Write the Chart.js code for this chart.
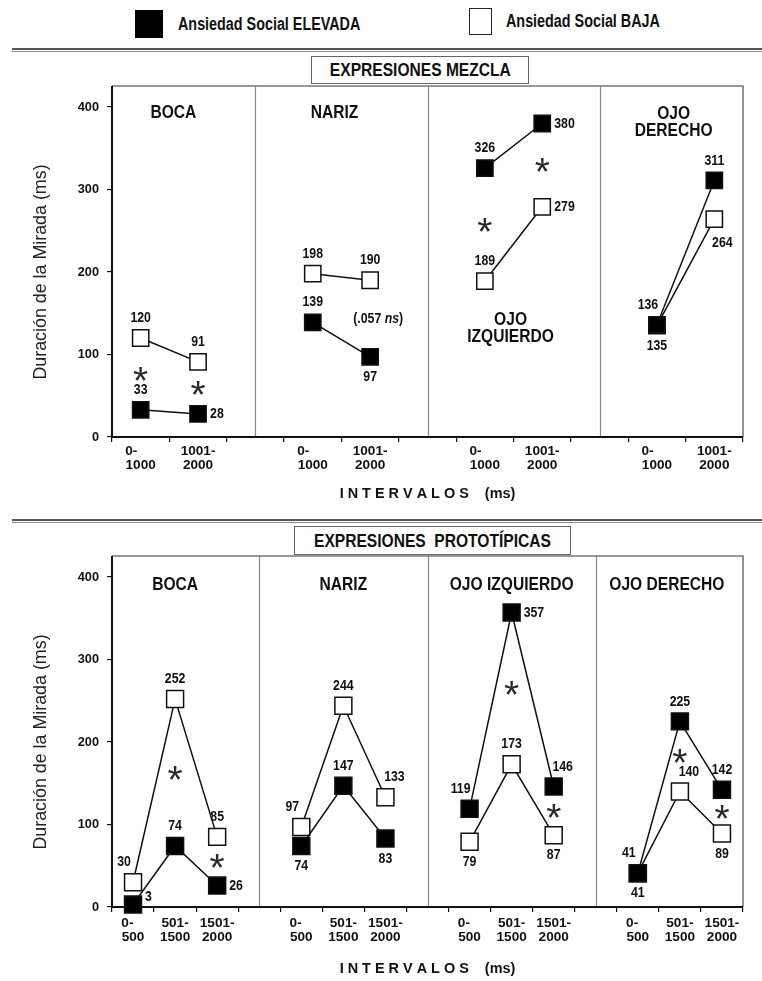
<!DOCTYPE html>
<html lang="es">
<head>
<meta charset="utf-8">
<title>Duración de la Mirada por intervalos</title>
<script src="https://cdn.jsdelivr.net/npm/chart.js@4.4.1/dist/chart.umd.min.js"></script>
<style>
    html, body { margin: 0; padding: 0; background: #fff; }
    body { position: relative; width: 762px; height: 981px; overflow: hidden; color: #111;
           font-family: "Liberation Sans", Arial, sans-serif; }
    .caja { position: absolute; box-sizing: border-box; }
    .negra { background: #000; }
    .blanca { background: #fff; border: 1.5px solid #222; }
    /* la figura usa una sans estrecha: se comprime en horizontal */
    .rotulo { position: absolute; transform: translateY(-50%) scaleX(0.82); transform-origin: left center;
              line-height: 1; white-space: nowrap; font-weight: bold; font-size: 17.5px; }
    .doble { position: absolute; left: 12px; right: 0; height: 1px; border-top: 2px solid #555; border-bottom: 1.5px solid #8a8a8a; }
    .cabecera { position: absolute; box-sizing: border-box; border: 1.5px solid #666; background: #fff; z-index: 2;
                display: flex; align-items: center; justify-content: center; font-weight: bold; font-size: 19px; white-space: pre; }
    .cabecera span { display: inline-block; transform: scaleX(0.82); }
    .lienzo { position: absolute; left: 0; }
</style>
</head>
<body>
    <!-- leyenda -->
    <div class="caja negra" style="left:135px;top:10px;width:28px;height:28px"></div>
    <div class="rotulo" style="left:178px;top:25px">Ansiedad Social ELEVADA</div>
    <div class="caja blanca" style="left:469px;top:8px;width:23px;height:27px"></div>
    <div class="rotulo" style="left:506px;top:22px">Ansiedad Social BAJA</div>

    <div class="doble" style="top:48px"></div>
    <div class="cabecera" style="left:311px;top:56px;width:218px;height:28px"><span>EXPRESIONES MEZCLA</span></div>
    <div class="lienzo" style="top:60px"><canvas id="mezcla" width="762" height="450"></canvas></div>

    <div class="doble" style="top:519px"></div>
    <div class="cabecera" style="left:294px;top:526px;width:277px;height:29px"><span>EXPRESIONES  PROTOTÍPICAS</span></div>
    <div class="lienzo" style="top:530px"><canvas id="prototipicas" width="762" height="451"></canvas></div>

<script>
// ---- datos ----
const regiones = ['BOCA', 'NARIZ', 'OJO IZQUIERDO', 'OJO DERECHO'];
const ticksY = [0, 100, 200, 300, 400];

// Expresiones mezcla: 2 intervalos por region
const intervalosMezcla = [['0-     ', '1000'], ['1001-', '2000']];
const mezclaElevada = [33, 28, 139, 97, 326, 380, 136, 311];
const mezclaBaja = [120, 91, 198, 190, 189, 279, 135, 264];
const mezclaSignif = [true, true, false, false, true, true, false, false];

// Expresiones prototipicas: 3 intervalos por region
const intervalosProto = [['0-   ', '500'], ['501-', '1500'], ['1501-', '2000']];
const protoElevada = [3, 74, 26, 74, 147, 83, 119, 357, 146, 41, 225, 142];
const protoBaja = [30, 252, 85, 97, 244, 133, 79, 173, 87, 41, 140, 89];
const protoSignif = [false, true, true, false, false, false, false, true, true, false, true, true];

// donde va cada etiqueta de valor (t arriba, b abajo, r derecha, tl/tr arriba-izq/der, br abajo-der, ru derecha-arriba)
const posMezclaElevada = ['t', 'r', 't', 'b', 't', 'r', 'tl', 't'];
const posMezclaBaja = ['t', 't', 't', 't', 't', 'r', 'b', 'br'];
const posProtoElevada = ['ru', 't', 'r', 'b', 't', 'b', 'tl', 'r', 'tr', 'b', 't', 't'];
const posProtoBaja = ['tl', 't', 't', 'tl', 't', 'tr', 'b', 't', 'b', 'tl', 'tr', 'b'];

const DESPLAZ = {
    t: [0, -20, 'center'], b: [0, 20, 'center'], r: [12, 0, 'left'],
    tl: [-9, -20, 'center'], tr: [9, -20, 'center'], br: [8, 24, 'center'], ru: [12, -8, 'left']
};

const FAM = '"Liberation Sans", Arial, sans-serif';
const K = 0.85;          // escala de los textos que dibuja Chart.js
const ESTRECHO = 0.82;   // compresion horizontal de los textos propios

const fuente = (px, peso = 'normal', estilo = 'normal') => estilo + ' ' + peso + ' ' + px + 'px ' + FAM;

function textoEstrecho(ctx, txt, x, y) {
    ctx.save();
    ctx.translate(x, y);
    ctx.scale(ESTRECHO, 1);
    ctx.fillText(txt, 0, 0);
    ctx.restore();
}

// mete un hueco (null) entre regiones
function expandir(valores, porRegion, relleno = null) {
    const out = [];
    valores.forEach((v, i) => {
        if (i > 0 && i % porRegion === 0) out.push(relleno);
        out.push(v);
    });
    return out;
}

// marco, separadores, etiquetas, asteriscos y titulos de region
const decoracion = {
    id: 'decoracion',
    beforeDatasetsDraw(chart, args, o) {
        const { ctx, chartArea: a } = chart;
        const x = chart.scales.x, y = chart.scales.y;
        const techo = Math.round(y.getPixelForValue(o.tope));
        ctx.save();
        ctx.strokeStyle = '#8a8a8a';
        ctx.lineWidth = 1.2;
        o.separadores.forEach(i => {
            const px = Math.round(x.getPixelForValue(i)) + 0.5;
            ctx.beginPath(); ctx.moveTo(px, techo); ctx.lineTo(px, a.bottom); ctx.stroke();
        });
        ctx.strokeStyle = '#777';
        ctx.lineWidth = 1.6;
        ctx.beginPath(); ctx.moveTo(a.left, techo); ctx.lineTo(a.right, techo); ctx.lineTo(a.right, a.bottom); ctx.stroke();
        ctx.strokeStyle = '#111';
        ctx.lineWidth = 2;
        ctx.beginPath(); ctx.moveTo(a.left, techo); ctx.lineTo(a.left, a.bottom); ctx.lineTo(a.right, a.bottom); ctx.stroke();
        ctx.restore();
    },
    afterDatasetsDraw(chart, args, o) {
        const { ctx } = chart;
        const x = chart.scales.x, y = chart.scales.y;
        const techo = y.getPixelForValue(o.tope);
        const metas = [chart.getDatasetMeta(0), chart.getDatasetMeta(1)];
        ctx.save();
        ctx.fillStyle = '#111';
        ctx.textBaseline = 'middle';

        // valores
        ctx.font = fuente(15, 'bold');
        metas.forEach((meta, d) => {
            const datos = chart.data.datasets[d].data;
            meta.data.forEach((pt, i) => {
                if (datos[i] == null) return;
                const [dx, dy, alin] = DESPLAZ[o.posiciones[d][i]];
                ctx.textAlign = alin;
                textoEstrecho(ctx, String(datos[i]), pt.x + dx, pt.y + dy);
            });
        });

        // asteriscos entre las dos series
        ctx.textBaseline = 'alphabetic';
        ctx.textAlign = 'center';
        ctx.font = '100px ' + FAM;
        const m = ctx.measureText('*');
        const tam = 14 / ((m.actualBoundingBoxAscent + m.actualBoundingBoxDescent) / 100);
        ctx.font = tam + 'px ' + FAM;
        const m2 = ctx.measureText('*');
        const bajar = (m2.actualBoundingBoxAscent - m2.actualBoundingBoxDescent) / 2;
        ctx.fillStyle = '#2a2a2a';
        o.signif.forEach((s, i) => {
            if (!s) return;
            const p0 = metas[0].data[i], p1 = metas[1].data[i];
            ctx.fillText('*', p0.x, (p0.y + p1.y) / 2 + bajar);
        });

        // notas de texto
        ctx.fillStyle = '#111';
        ctx.textBaseline = 'middle';
        ctx.textAlign = 'left';
        (o.notas || []).forEach(n => {
            const p0 = metas[0].data[n.indice], p1 = metas[1].data[n.indice];
            let ancho = 0;
            n.partes.forEach(([t, est]) => { ctx.font = fuente(15, 'bold', est); ancho += ctx.measureText(t).width * ESTRECHO; });
            let cx = p0.x + n.dx - ancho / 2;
            n.partes.forEach(([t, est]) => {
                ctx.font = fuente(15, 'bold', est);
                textoEstrecho(ctx, t, cx, (p0.y + p1.y) / 2);
                cx += ctx.measureText(t).width * ESTRECHO;
            });
        });

        // titulos de region
        ctx.font = fuente(19, 'bold');
        ctx.textAlign = 'center';
        o.titulos.forEach(t => {
            t.lineas.forEach((linea, j) => {
                textoEstrecho(ctx, linea, x.getPixelForValue(t.x) + t.dx, techo + t.dy + j * 17);
            });
        });
        ctx.restore();
    }
};

function crearGrafico(id, cfg) {
    const serie = (label, data, relleno) => ({
        label, data,
        borderColor: '#111', borderWidth: 1.5, tension: 0, spanGaps: false, clip: false,
        pointStyle: 'rect', pointRadius: cfg.radio, pointHoverRadius: cfg.radio,
        pointBackgroundColor: relleno, pointBorderColor: '#111', pointBorderWidth: 1.5
    });
    return new Chart(document.getElementById(id), {
        type: 'line',
        data: {
            labels: cfg.etiquetas,
            datasets: [
                serie('Ansiedad Social ELEVADA', cfg.elevada, '#000'),
                serie('Ansiedad Social BAJA', cfg.baja, '#fff')
            ]
        },
        options: {
            responsive: false,
            animation: false,
            layout: { padding: { left: 28, right: 19, top: 47, bottom: 0 } },
            plugins: {
                legend: { display: false },
                tooltip: { enabled: false },
                decoracion: {
                    tope: 425,
                    separadores: cfg.separadores,
                    posiciones: cfg.posiciones,
                    signif: cfg.signif,
                    notas: cfg.notas,
                    titulos: cfg.titulos
                }
            },
            scales: {
                x: {
                    type: 'category',
                    offset: true,
                    grid: { offset: true, drawOnChartArea: false, tickLength: 5, color: '#111', lineWidth: 1.2 },
                    border: { display: false },
                    ticks: { autoSkip: false, maxRotation: 0, padding: cfg.padX, color: '#111',
                             font: { family: FAM, size: 16 * K, weight: 'bold', lineHeight: 1.06 } },
                    title: { display: true, text: 'I N T E R V A L O S    (ms)', color: '#111',
                             font: { family: FAM, size: 17 * K, weight: 'bold' }, padding: { top: 4, bottom: cfg.padTitulo } },
                    afterFit: s => { s.height = cfg.altoX; }
                },
                y: {
                    min: 0, max: 400,
                    afterBuildTicks: s => { s.ticks = ticksY.map(v => ({ value: v })); },
                    grid: { drawOnChartArea: false, tickLength: 5, color: '#111', lineWidth: 1.2 },
                    border: { display: false },
                    ticks: { padding: 8, color: '#111', font: { family: FAM, size: 15 * K, weight: 'bold' } },
                    title: { display: true, text: 'Duración de la Mirada (ms)', color: '#222',
                             font: { family: FAM, size: 21 * K }, padding: { top: 2, bottom: 0 } },
                    afterFit: s => { s.width = 84; }
                }
            }
        },
        plugins: [decoracion]
    });
}

// arriba: expresiones mezcla (indices con hueco: 0,1 | 3,4 | 6,7 | 9,10)
crearGrafico('mezcla', {
    etiquetas: expandir([].concat(...regiones.map(() => intervalosMezcla)), 2, ''),
    elevada: expandir(mezclaElevada, 2),
    baja: expandir(mezclaBaja, 2),
    signif: expandir(mezclaSignif, 2, false),
    posiciones: [expandir(posMezclaElevada, 2), expandir(posMezclaBaja, 2)],
    separadores: [2, 5, 8],
    radio: 11.5,
    padX: 2,
    altoX: 73,
    padTitulo: 7,
    notas: [{ indice: 4, dx: 8, partes: [['(.057 ', 'normal'], ['ns', 'italic'], [')', 'normal']] }],
    titulos: [
        { lineas: [regiones[0]], x: 0.5, dx: 4, dy: 26 },
        { lineas: [regiones[1]], x: 3.5, dx: -7, dy: 26 },
        { lineas: ['OJO', 'IZQUIERDO'], x: 6.5, dx: -3, dy: 233 },
        { lineas: ['OJO', 'DERECHO'], x: 9.5, dx: -12, dy: 27 }
    ]
});

// abajo: expresiones prototipicas (indices con hueco: 0-2 | 4-6 | 8-10 | 12-14)
crearGrafico('prototipicas', {
    etiquetas: expandir([].concat(...regiones.map(() => intervalosProto)), 3, ''),
    elevada: expandir(protoElevada, 3),
    baja: expandir(protoBaja, 3),
    signif: expandir(protoSignif, 3, false),
    posiciones: [expandir(posProtoElevada, 3), expandir(posProtoBaja, 3)],
    separadores: [3, 7, 11],
    radio: 12,
    padX: 4,
    altoX: 74,
    padTitulo: 3,
    notas: [],
    titulos: [
        { lineas: [regiones[0]], x: 1, dx: 0, dy: 28 },
        { lineas: [regiones[1]], x: 5, dx: 0, dy: 28 },
        { lineas: [regiones[2]], x: 9, dx: 0, dy: 28 },
        { lineas: [regiones[3]], x: 13, dx: -13, dy: 28 }
    ]
});
</script>
</body>
</html>
